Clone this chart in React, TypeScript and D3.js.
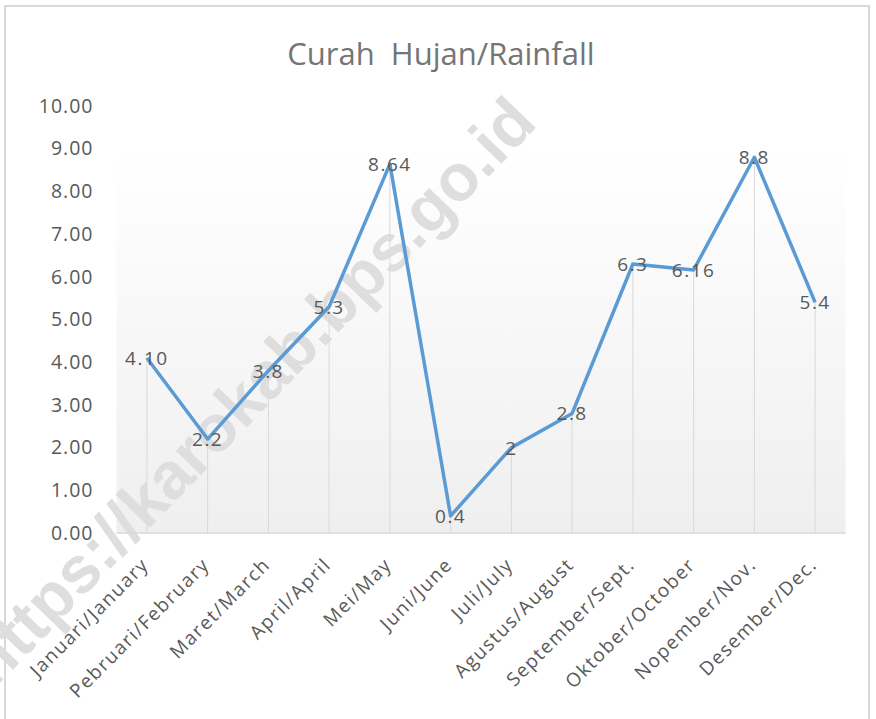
import React, { useRef, useEffect } from 'react';
import * as d3 from 'd3';

const months = [
  'Januari/January', 'Pebruari/February', 'Maret/March', 'April/April',
  'Mei/May', 'Juni/June', 'Juli/July', 'Agustus/August',
  'September/Sept.', 'Oktober/October', 'Nopember/Nov.', 'Desember/Dec.',
];
const rainfall = [4.1, 2.2, 3.8, 5.3, 8.64, 0.4, 2, 2.8, 6.3, 6.16, 8.8, 5.4];
const valueLabels = ['4.10', '2.2', '3.8', '5.3', '8.64', '0.4', '2', '2.8', '6.3', '6.16', '8.8', '5.4'];
const yTicks = [0, 1, 2, 3, 4, 5, 6, 7, 8, 9, 10];

const FONT = '"Open Sans", "Noto Sans", sans-serif';

const App = () => {
  const svgRef = useRef<SVGSVGElement>(null);

  useEffect(() => {
    const svg = d3.select(svgRef.current);
    svg.selectAll('*').remove();

    const W = 876, H = 719;
    const left = 116.5, right = 845.5, top = 106, bottom = 533;

    const x = d3.scaleBand().domain(months).range([left, right]);
    const y = d3.scaleLinear().domain([0, 10]).range([bottom, top]);
    const cx = (m: string) => (x(m) as number) + x.bandwidth() / 2;

    svg.append('rect').attr('width', W).attr('height', H).attr('fill', '#fff');

    // outer frame
    svg.append('rect')
      .attr('x', 5).attr('y', 6).attr('width', 864).attr('height', 730)
      .attr('fill', 'none').attr('stroke', '#d9d9d9').attr('stroke-width', 2);

    // plot area gradient
    const defs = svg.append('defs');
    const grad = defs.append('linearGradient').attr('id', 'bg')
      .attr('x1', 0).attr('y1', 0).attr('x2', 0).attr('y2', 1);
    grad.append('stop').attr('offset', '0%').attr('stop-color', '#ffffff');
    grad.append('stop').attr('offset', '100%').attr('stop-color', '#efefef');
    svg.append('rect')
      .attr('x', left).attr('y', 150)
      .attr('width', right - left).attr('height', bottom - 150)
      .attr('fill', 'url(#bg)');

    // title
    svg.append('text')
      .attr('x', 441).attr('y', 65)
      .attr('text-anchor', 'middle')
      .attr('font-family', FONT).attr('font-size', 31)
      .attr('fill', '#757575')
      .style('white-space', 'pre')
      .text('Curah  Hujan/Rainfall');

    // watermark (runs off the bottom-left corner, as in the source)
    svg.append('text')
      .attr('transform', 'translate(250,391) rotate(-46)')
      .attr('text-anchor', 'middle')
      .attr('dominant-baseline', 'central')
      .attr('font-family', '"Liberation Sans", Arial, sans-serif')
      .attr('font-weight', 'bold').attr('font-size', 66)
      .attr('fill', '#dedede')
      .text('https://karokab.bps.go.id');

    // y axis
    const yAxis = svg.append('g')
      .attr('transform', `translate(${left},0)`)
      .call(d3.axisLeft(y).tickValues(yTicks).tickFormat(d3.format('.2f')).tickSize(0).tickPadding(23));
    yAxis.select('.domain').remove();
    yAxis.selectAll('text')
      .attr('font-family', FONT).attr('font-size', 19.5).attr('fill', '#595959')
      .attr('letter-spacing', 1);

    // drop lines
    svg.append('g').selectAll('line')
      .data(rainfall)
      .enter().append('line')
      .attr('x1', (d, i) => cx(months[i])).attr('x2', (d, i) => cx(months[i]))
      .attr('y1', d => y(d)).attr('y2', bottom)
      .attr('stroke', '#d9d9d9').attr('stroke-width', 1);

    // x axis line
    svg.append('line')
      .attr('x1', left).attr('x2', right).attr('y1', bottom).attr('y2', bottom)
      .attr('stroke', '#d9d9d9').attr('stroke-width', 1.5);

    // category labels
    svg.append('g').selectAll('text')
      .data(months)
      .enter().append('text')
      .attr('transform', d => `translate(${cx(d) + 3},${bottom + 33}) rotate(-45)`)
      .attr('text-anchor', 'end')
      .attr('font-family', FONT).attr('font-size', 19).attr('fill', '#595959')
      .attr('letter-spacing', 1.5)
      .text(d => d);

    // line
    const line = d3.line<number>()
      .x((d, i) => cx(months[i]))
      .y(d => y(d));
    svg.append('path')
      .datum(rainfall)
      .attr('d', line)
      .attr('fill', 'none')
      .attr('stroke', '#5b9bd5')
      .attr('stroke-width', 3.5)
      .attr('stroke-linejoin', 'round');

    // data labels
    svg.append('g').selectAll('text')
      .data(rainfall)
      .enter().append('text')
      .attr('x', (d, i) => cx(months[i]))
      .attr('y', d => y(d))
      .attr('text-anchor', 'middle')
      .attr('dominant-baseline', 'central')
      .attr('font-family', FONT).attr('font-size', 19).attr('fill', '#595959')
      .attr('letter-spacing', 1.5)
      .text((d, i) => valueLabels[i]);
  }, []);

  return (
    <svg
      ref={svgRef}
      width="876"
      height="719"
      style={{ position: 'absolute', left: 0, top: 0, display: 'block' }}
    ></svg>
  );
};

export default App;
